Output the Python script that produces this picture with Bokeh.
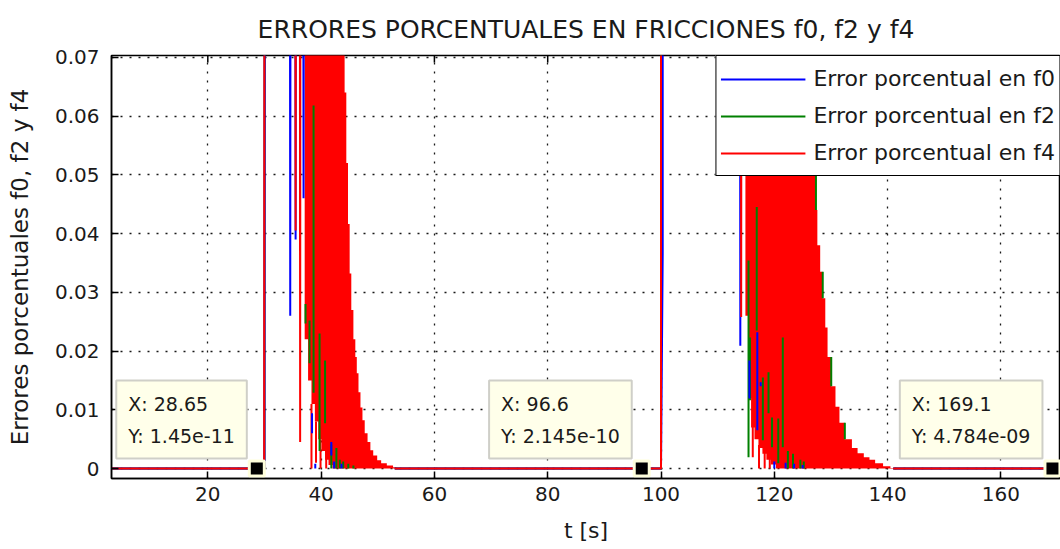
import numpy as np
from bokeh.plotting import figure
from bokeh.models import (Range1d, FixedTicker, Legend, LegendItem, Label)
from bokeh.embed import file_html
from bokeh.resources import INLINE

nan = np.nan

# ---------------- data ----------------
title_text = "ERRORES PORCENTUALES EN FRICCIONES f0, f2 y f4"
xlabel_text = "t [s]"
ylabel_text = "Errores porcentuales f0, f2 y f4"
legend_labels = ["Error porcentual en f0", "Error porcentual en f2", "Error porcentual en f4"]

x_lo, x_hi = 3.0, 170.52
y_lo, y_hi = -0.0017, 0.0703
xtick_vals = [20, 40, 60, 80, 100, 120, 140, 160]
ytick_vals = [0, 0.01, 0.02, 0.03, 0.04, 0.05, 0.06, 0.07]
ytick_labels = ["0", "0.01", "0.02", "0.03", "0.04", "0.05", "0.06", "0.07"]

# sparse parts of each series (values above 0.07 leave the axes)
f0_t = [3.0, 30.0, 30.05, 34.5, 34.55, 34.6, 35.45, 35.5, 35.55, 36.85, 36.9, 36.95, 37.1, nan,
        53.0, 100.0, 100.3, 100.3, 113.95, 114.0, 114.05, 114.9, nan, 141.0, 169.1]
f0_v = [0.0, 0.0, 0.095, 0.095, 0.026, 0.095, 0.095, 0.039, 0.095, 0.095, 0.046, 0.095, 0.095, nan,
        0.0, 0.0, 0.0365, 0.095, 0.095, 0.0209, 0.095, 0.095, nan, 0.0, 0.0]

f2_t = [3.0, 30.0, 30.05, 37.1, nan, 53.0, 100.0, 100.05, 114.9, nan, 141.0, 169.1]
f2_v = [0.0, 0.0, 0.095, 0.095, nan, 0.0, 0.0, 0.095, 0.095, nan, 0.0, 0.0]

f4_t = [3.0, 29.95, 30.0, 35.45, 35.5, 35.55, 36.25, 36.3, 36.35, 37.1, nan,
        53.0, 100.0, 100.0, 114.1, 114.15, 114.2, 114.9, nan, 141.0, 169.1]
f4_v = [0.0, 0.0, 0.095, 0.095, 0.0405, 0.095, 0.095, 0.0045, 0.095, 0.095, nan,
        0.0, 0.0, 0.095, 0.095, 0.0258, 0.095, 0.095, nan, 0.0, 0.0]

# dense oscillation of f4 (upper and lower reach of the swings)
burst1_t = [37.1, 37.7, 38.3, 38.9, 39.5, 40.1, 40.7, 41.3, 42.0, 44.15, 44.45, 44.75, 45.04,
            45.33, 45.7, 46.04, 46.3, 46.6, 46.95, 47.3, 47.7, 48.2, 48.7, 49.2, 49.9, 50.6,
            51.6, 52.7, 53.3]
burst1_hi = [0.095, 0.095, 0.095, 0.095, 0.095, 0.095, 0.095, 0.095, 0.095, 0.064, 0.052, 0.0416,
             0.0332, 0.027, 0.022, 0.019, 0.0162, 0.013, 0.0104, 0.0082, 0.006, 0.0045, 0.0031,
             0.0022, 0.0014, 0.0009, 0.0005, 0.0002, 0.0]
burst1_lo = [0.022, 0.015, 0.011, 0.008, 0.005, 0.003, 0.0015, 0.0006, 0.0, 0.0, 0.0, 0.0, 0.0,
             0.0, 0.0, 0.0, 0.0, 0.0, 0.0, 0.0, 0.0, 0.0, 0.0, 0.0, 0.0, 0.0, 0.0, 0.0, 0.0]

burst2_t = [114.9, 115.4, 115.9, 116.5, 117.2, 117.9, 118.6, 119.4, 120.3, 127.3, 127.6, 128.1,
            128.5, 129.0, 129.4, 130.0, 130.8, 131.5, 132.4, 133.7, 134.7, 135.8, 136.8, 137.8,
            139.2, 140.5, 141.0]
burst2_hi = [0.095, 0.095, 0.095, 0.095, 0.095, 0.095, 0.095, 0.095, 0.095, 0.044, 0.038, 0.0335,
             0.029, 0.024, 0.019, 0.014, 0.0105, 0.0078, 0.005, 0.0035, 0.0026, 0.0019, 0.0015,
             0.0009, 0.0004, 0.0001, 0.0]
burst2_lo = [0.026, 0.012, 0.007, 0.005, 0.0035, 0.0025, 0.0015, 0.0007, 0.0, 0.0, 0.0, 0.0,
             0.0, 0.0, 0.0, 0.0, 0.0, 0.0, 0.0, 0.0, 0.0, 0.0, 0.0, 0.0, 0.0, 0.0, 0.0]

# single swings seen inside the dense parts
f4_swing_t = [38.3, 39.1, 39.9, 40.9, 116.2, 117.3, 118.3, 119.2]
f4_swing_lo = [0.0, 0.001, 0.0, 0.0, 0.0019, 0.0, 0.0, 0.0]
f4_swing_hi = [0.011, 0.008, 0.005, 0.003, 0.03, 0.004, 0.003, 0.002]

f2_swing_t = [37.25, 37.96, 38.67, 39.73, 40.7, 41.8, 42.7, 43.3, 43.9, 44.8, 45.7,
              115.45, 115.7, 116.9, 117.98, 118.98, 119.6, 120.7, 121.5, 122.4, 123.3, 124.6, 125.2,
              127.35, 128.55, 130.05, 132.45]
f2_swing_lo = [0.0247, 0.0179, 0.0129, 0.003, 0.0077, 0.0, 0.0, 0.0, 0.0, 0.0, 0.0,
               0.0019, 0.0116, 0.0235, 0.0048, 0.0094, 0.0036, 0.0009, 0.0036, 0.0, 0.0, 0.0, 0.0,
               0.044, 0.029, 0.014, 0.005]
f2_swing_hi = [0.028, 0.0252, 0.0618, 0.023, 0.0184, 0.0041, 0.0035, 0.0015, 0.0012, 0.0008, 0.0005,
               0.0354, 0.0223, 0.0445, 0.0155, 0.0164, 0.0087, 0.0085, 0.0223, 0.003, 0.0025, 0.0015, 0.0012,
               0.05, 0.0335, 0.019, 0.0078]

f0_swing_t = [38.4, 38.97, 41.8, 42.3, 43.6, 115.6, 117.0, 117.6, 120.0, 122.0, 123.5, 125.0]
f0_swing_lo = [0.006, 0.0, 0.0022, 0.0, 0.0, 0.0119, 0.0065, 0.014, 0.0, 0.0, 0.0, 0.0]
f0_swing_hi = [0.0094, 0.0008, 0.0045, 0.0012, 0.0008, 0.0184, 0.0232, 0.0147, 0.0012, 0.001, 0.0008, 0.0006]

# data tips
tip_x = [28.65, 96.6, 169.1]
tip_y = [1.45e-11, 2.145e-10, 4.784e-09]

# ---------------- styling ----------------
FONT = "DejaVu Sans"
TXT = "#1a1a1a"
BLUE, GREEN, RED = "#0000ff", "#008000", "#ff0000"

p = figure(width=1060, height=549, x_range=Range1d(x_lo, x_hi), y_range=Range1d(y_lo, y_hi),
           output_backend="svg", toolbar_location=None,
           min_border_left=111, min_border_right=0, min_border_top=55, min_border_bottom=71)
p.background_fill_color = "white"
p.border_fill_color = "white"
p.outline_line_color = "black"
p.outline_line_width = 1.5

p.title.text = title_text
p.title.align = "center"
p.title.text_font = FONT
p.title.text_font_size = "25px"
p.title.text_font_style = "normal"
p.title.text_color = TXT
p.title.standoff = 24

for ax in (p.xaxis[0], p.yaxis[0]):
    ax.axis_line_width = 1.5
    ax.axis_line_color = "black"
    ax.major_tick_in = 7
    ax.major_tick_out = 0
    ax.major_tick_line_width = 1.5
    ax.minor_tick_line_color = None
    ax.major_label_text_font = FONT
    ax.major_label_text_font_size = "20px"
    ax.major_label_text_color = TXT
    ax.axis_label_text_font = FONT
    ax.axis_label_text_font_style = "normal"
    ax.axis_label_text_color = TXT

p.xaxis.axis_label_text_font_size = "22px"
p.yaxis.axis_label_text_font_size = "23px"
p.xaxis.ticker = FixedTicker(ticks=xtick_vals)
p.yaxis.ticker = FixedTicker(ticks=ytick_vals)
p.yaxis.major_label_overrides = {v: s for v, s in zip(ytick_vals, ytick_labels)}
p.xaxis.axis_label = xlabel_text
p.yaxis.axis_label = ylabel_text
p.xaxis.major_label_standoff = 8
p.xaxis.axis_label_standoff = 14
p.yaxis.major_label_standoff = 12
p.yaxis.axis_label_standoff = 19

for g in (p.xgrid[0], p.ygrid[0]):
    g.grid_line_color = "black"
    g.grid_line_dash = "2 7"
    g.grid_line_width = 1.3
    g.grid_line_alpha = 0.9
p.xgrid.ticker = FixedTicker(ticks=xtick_vals)
p.ygrid.ticker = FixedTicker(ticks=ytick_vals)

# tick marks on the top edge of the box (MATLAB "box on")
top_tick_len = 7 * (y_hi - y_lo) / 423.0
p.segment(x0=xtick_vals, y0=[y_hi] * len(xtick_vals), x1=xtick_vals,
          y1=[y_hi - top_tick_len] * len(xtick_vals), line_color="black", line_width=1.5)

# dense oscillation parts of f4
p.varea_step(x=burst1_t, y1=burst1_lo, y2=burst1_hi, step_mode="after", fill_color=RED)
p.varea_step(x=burst2_t, y1=burst2_lo, y2=burst2_hi, step_mode="after", fill_color=RED)

# swings inside the dense parts
p.segment(x0=f4_swing_t, y0=f4_swing_lo, x1=f4_swing_t, y1=f4_swing_hi, line_color=RED, line_width=2)
p.segment(x0=f2_swing_t, y0=f2_swing_lo, x1=f2_swing_t, y1=f2_swing_hi, line_color=GREEN, line_width=2)
p.segment(x0=f0_swing_t, y0=f0_swing_lo, x1=f0_swing_t, y1=f0_swing_hi, line_color=BLUE, line_width=2)

# the three series
r2 = p.line(f2_t, f2_v, line_color=GREEN, line_width=2)
r0 = p.line(f0_t, f0_v, line_color=BLUE, line_width=2)
r4 = p.line(f4_t, f4_v, line_color=RED, line_width=2)

legend = Legend(items=[LegendItem(label=legend_labels[0], renderers=[r0]),
                       LegendItem(label=legend_labels[1], renderers=[r2]),
                       LegendItem(label=legend_labels[2], renderers=[r4])],
                location="top_right", margin=0, padding=4, spacing=0,
                label_height=37, glyph_height=20, glyph_width=85, label_standoff=8,
                border_line_color="black", border_line_width=1.5, border_line_alpha=1,
                background_fill_color="white", background_fill_alpha=1,
                label_text_font=FONT, label_text_font_size="22px", label_text_color=TXT)
p.add_layout(legend)

# data tips
for tx, ty in zip(tip_x, tip_y):
    lab = Label(x=tx, y=ty, x_units="data", y_units="data",
                text="X: %s\nY: %s" % (format(tx, ".4g"), format(ty, ".4g")),
                anchor="bottom_right", text_align="left", x_offset=-10, y_offset=10,
                padding=12, text_font=FONT, text_font_size="19px", text_color=TXT,
                text_line_height=1.45,
                background_fill_color="#ffffea", background_fill_alpha=1,
                border_line_color="#cfcfc8", border_line_width=2)
    p.add_layout(lab)
p.scatter(tip_x, tip_y, marker="square", size=15, fill_color="black", line_color="#ffffdc",
          line_width=3)

open("out.html", "w").write(file_html(p, INLINE))
